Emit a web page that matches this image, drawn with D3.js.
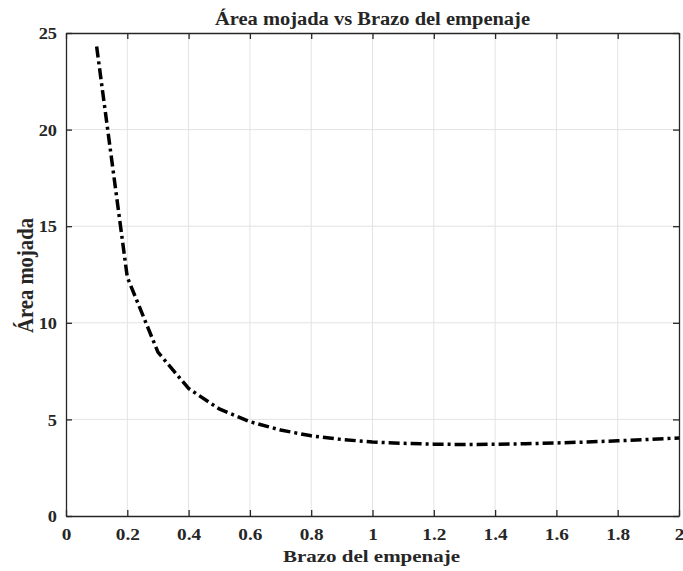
<!DOCTYPE html>
<html>
<head>
<meta charset="utf-8">
<script src="https://cdn.jsdelivr.net/npm/d3@7"></script>
<style>
  body { margin: 0; background: #fff; }
  svg { display: block; }
  text { font-family: "Liberation Serif", "Times New Roman", serif; font-weight: bold; fill: #262626; }
</style>
</head>
<body>
<svg id="chart" width="683" height="571"></svg>
<script>
const brazo = [0.1, 0.2, 0.3, 0.4, 0.5, 0.6, 0.7, 0.8, 0.9, 1.0, 1.1, 1.2, 1.3, 1.4, 1.5, 1.6, 1.7, 1.8, 1.9, 2.0];
const areaMojada = [24.3, 12.36, 8.48, 6.6, 5.54, 4.88, 4.45, 4.15, 3.96, 3.83, 3.76, 3.72, 3.70, 3.71, 3.74, 3.78, 3.83, 3.89, 3.96, 4.04];
const xTicks = [0, 0.2, 0.4, 0.6, 0.8, 1, 1.2, 1.4, 1.6, 1.8, 2];
const yTicks = [0, 5, 10, 15, 20, 25];
const titleText = "Área mojada vs Brazo del empenaje";
const xLabelText = "Brazo del empenaje";
const yLabelText = "Área mojada";

const W = 683, H = 571;
const m = { left: 66, right: 4, top: 33, bottom: 55 };
const iw = W - m.left - m.right, ih = H - m.top - m.bottom;

const svg = d3.select("#chart");
const g = svg.append("g").attr("transform", `translate(${m.left},${m.top})`);

const x = d3.scaleLinear().domain([0, 2]).range([0, iw]);
const y = d3.scaleLinear().domain([0, 25]).range([ih, 0]);

// stretch text horizontally (reference glyphs are wider than tall)
function stretch(sel, k) {
  sel.each(function () {
    const len = this.getComputedTextLength();
    if (len > 0) d3.select(this).attr("textLength", len * k).attr("lengthAdjust", "spacingAndGlyphs");
  });
}

// grid
g.append("g").selectAll("line").data(xTicks.slice(1, -1)).join("line")
  .attr("x1", d => x(d)).attr("x2", d => x(d)).attr("y1", 0).attr("y2", ih)
  .attr("stroke", "#e3e3e3").attr("stroke-width", 1);
g.append("g").selectAll("line").data(yTicks.slice(1, -1)).join("line")
  .attr("y1", d => y(d)).attr("y2", d => y(d)).attr("x1", 0).attr("x2", iw)
  .attr("stroke", "#e3e3e3").attr("stroke-width", 1);

// axes
const fmt = d => String(d);
const xAxis = g.append("g").attr("transform", `translate(0,${ih})`)
  .call(d3.axisBottom(x).tickValues(xTicks).tickFormat(fmt).tickSizeInner(-6).tickSizeOuter(0).tickPadding(12));
const yAxis = g.append("g")
  .call(d3.axisLeft(y).tickValues(yTicks).tickFormat(fmt).tickSizeInner(-6).tickSizeOuter(0).tickPadding(9));
const xTop = g.append("g")
  .call(d3.axisTop(x).tickValues(xTicks).tickFormat("").tickSizeInner(-6).tickSizeOuter(0));
const yRight = g.append("g").attr("transform", `translate(${iw},0)`)
  .call(d3.axisRight(y).tickValues(yTicks).tickFormat("").tickSizeInner(-6).tickSizeOuter(0));
[xAxis, yAxis, xTop, yRight].forEach(a => {
  a.select(".domain").attr("stroke", "#262626").attr("stroke-width", 1.3);
  a.selectAll(".tick line").attr("stroke", "#262626").attr("stroke-width", 1.3);
  a.selectAll("text").attr("font-family", "Liberation Serif, serif").attr("font-weight", "bold")
    .attr("font-size", 17.5).attr("fill", "#262626");
});
stretch(xAxis.selectAll("text"), 1.1);
stretch(yAxis.selectAll("text"), 1.05);

// line
const line = d3.line().x((d, i) => x(brazo[i])).y(d => y(d));
g.append("path").datum(areaMojada)
  .attr("d", line)
  .attr("fill", "none").attr("stroke", "#000").attr("stroke-width", 3.5)
  .attr("stroke-dasharray", "11,4,3,4");

// labels
svg.append("text").attr("x", 372.5).attr("y", 25)
  .attr("text-anchor", "middle").attr("font-size", 18).attr("fill", "#000")
  .attr("textLength", 315).attr("lengthAdjust", "spacingAndGlyphs").text(titleText);
svg.append("text").attr("x", 371.5).attr("y", 562)
  .attr("text-anchor", "middle").attr("font-size", 17)
  .attr("textLength", 177).attr("lengthAdjust", "spacingAndGlyphs").text(xLabelText);
svg.append("text").attr("transform", `translate(33,275.5) rotate(-90)`)
  .attr("text-anchor", "middle").attr("font-size", 23.5)
  .attr("textLength", 115).attr("lengthAdjust", "spacingAndGlyphs").text(yLabelText);
</script>
</body>
</html>
